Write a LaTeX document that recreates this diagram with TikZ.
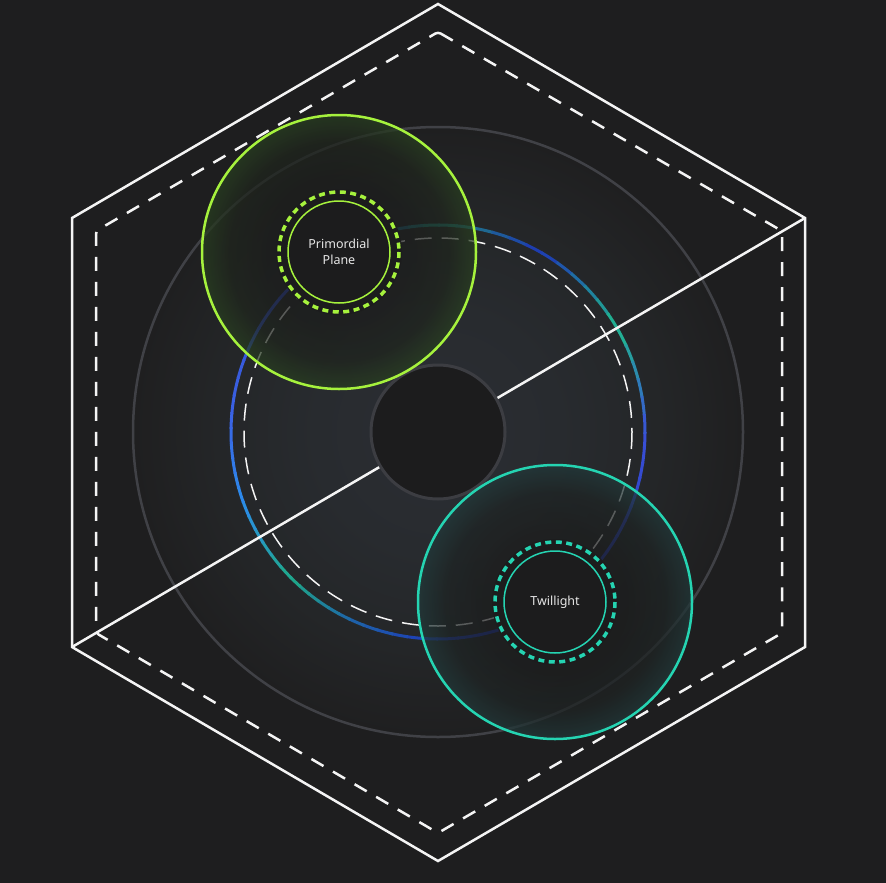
\documentclass[tikz,border=0pt]{standalone}
\usepackage{fontspec}
\setmainfont{Noto Sans}
\usetikzlibrary{calc}
\definecolor{bgdark}{HTML}{1E1E1F}
\definecolor{hexwhite}{HTML}{F4F4F4}
\definecolor{orbitgrey}{HTML}{404146}
\definecolor{coregrey}{HTML}{3C3D42}
\definecolor{corefill}{HTML}{1C1C1D}
\definecolor{limegreen}{HTML}{A6F23D}
\definecolor{aquateal}{HTML}{25D4B2}
\definecolor{labelgrey}{HTML}{E6E6E6}
\definecolor{orbitmid}{HTML}{2B2E33}
\definecolor{orbitsoft}{HTML}{282B2F}
\definecolor{orbitfade}{HTML}{242628}
\definecolor{orbitedge}{HTML}{1F1F20}
\definecolor{limecore}{HTML}{1C1D1C}
\definecolor{limemid}{HTML}{1F251D}
\definecolor{limeedge}{HTML}{283F20}
\definecolor{tealcore}{HTML}{1C1D1D}
\definecolor{tealmid}{HTML}{1E2424}
\definecolor{tealedge}{HTML}{21393A}
% ring stops
\definecolor{ringA}{HTML}{3A50D8}
\definecolor{ringB}{HTML}{2F44C8}
\definecolor{ringC}{HTML}{1E38B0}
\definecolor{ringD}{HTML}{1E38B8}
\definecolor{ringE}{HTML}{1E64A8}
\definecolor{ringF}{HTML}{1FAA88}
\definecolor{ringG}{HTML}{2C8CEA}
\definecolor{ringH}{HTML}{3B62E4}
\definecolor{ringI}{HTML}{3350D6}
\definecolor{ringJ}{HTML}{243A90}
\definecolor{ringK}{HTML}{1F8C78}
\definecolor{ringL}{HTML}{1E36B4}
\definecolor{ringM}{HTML}{20B88E}
% the middle 50bp of a shading is fitted to the path, so 25bp is the rim
\pgfdeclareradialshading{orbitglow}{\pgfpoint{0bp}{0bp}}{color(0bp)=(orbitmid); color(10bp)=(orbitsoft); color(18bp)=(orbitfade); color(25bp)=(orbitedge); color(50bp)=(orbitedge)}
\pgfdeclareradialshading{limeglow}{\pgfpoint{0bp}{0bp}}{color(0bp)=(limecore); color(13bp)=(limecore); color(20bp)=(limemid); color(25bp)=(limeedge); color(50bp)=(limeedge)}
\pgfdeclareradialshading{tealglow}{\pgfpoint{0bp}{0bp}}{color(0bp)=(tealcore); color(13bp)=(tealcore); color(20bp)=(tealmid); color(25bp)=(tealedge); color(50bp)=(tealedge)}

\begin{document}
\begin{tikzpicture}[
        x=1pt, y=-1pt,
        hexline/.style={draw=hexwhite, line width=2.5pt, line join=miter},
        hexdash/.style={draw=hexwhite, line width=2.5pt, dash pattern=on 14pt off 11pt, rounded corners=3pt},
        orbit/.style={draw=orbitgrey, line width=2.5pt},
        ringline/.style={line width=3pt, line cap=butt},
        trackdash/.style={draw=hexwhite, line width=1.5pt, dash pattern=on 17pt off 10pt},
        realm/.style={line width=2.5pt},
        seal/.style={line width=3.5pt, dash pattern=on 6pt off 4.5pt},
        realmtext/.style={text=labelgrey, font=\fontsize{12.5}{16}\selectfont, align=center, inner sep=0pt},
    ]
        \fill[bgdark] (0,0) rectangle (886,883);
        \useasboundingbox (0,0) rectangle (886,883);

        \coordinate (core) at (438,432);
        \coordinate (primal) at (339,252);
        \coordinate (dusk) at (555,602);

        \coordinate (hexN) at (438,4);
        \coordinate (hexNE) at (805,218);
        \coordinate (hexSE) at (805,647);
        \coordinate (hexS) at (438,861);
        \coordinate (hexSW) at (72,647);
        \coordinate (hexNW) at (72,218);

        \draw[hexline] (hexN) -- (hexNE) -- (hexSE) -- (hexS) -- (hexSW) -- (hexNW) -- cycle;
        \draw[hexdash] (438,32) -- (782,231) -- (782,633) -- (438,833) -- (96,633) -- (96,231) -- cycle;

        \shade[shading=orbitglow] (core) circle[radius=305];
        \draw[orbit] (core) circle[radius=305];

        \foreach \sa/\ea/\ca/\cb in {0/25/ringA/ringB, 25/55/ringB/ringC, 55/90/ringC/ringD,
                90/115/ringD/ringE, 115/135/ringE/ringF, 135/160/ringF/ringG, 160/185/ringG/ringH,
                185/215/ringH/ringI, 215/245/ringI/ringJ, 245/270/ringJ/ringK, 270/300/ringK/ringL,
                300/330/ringL/ringM, 330/360/ringM/ringA}{
            \foreach \k in {0,...,5}{
                \pgfmathsetmacro\from{\sa+(\ea-\sa)*\k/6}
                \pgfmathsetmacro\to{\sa+(\ea-\sa)*(\k+1)/6+0.5}
                \pgfmathtruncatemacro\mix{100-100*(\k+0.5)/6}
                \colorlet{segcol}{\ca!\mix!\cb}
                \draw[ringline, segcol] ($(core)+(\from:207)$) arc[start angle=\from, end angle=\to, radius=207];
            }
        }
        \draw[trackdash] (core) circle[radius=194];

        \draw[hexline] (hexSW) -- (hexNE);

        \draw[fill=corefill, draw=coregrey, line width=3pt] (core) circle[radius=67];

        \shade[shading=limeglow, fill opacity=0.72] (primal) circle[radius=137];
        \draw[realm, limegreen] (primal) circle[radius=137];
        \fill[corefill] (primal) circle[radius=63];
        \draw[seal, limegreen] (primal) circle[radius=60];
        \draw[limegreen, line width=1.5pt] (primal) circle[radius=51];
        \node[realmtext] (primordial) at (primal) {Primordial\\Plane};

        \shade[shading=tealglow, fill opacity=0.72] (dusk) circle[radius=137];
        \draw[realm, aquateal] (dusk) circle[radius=137];
        \fill[corefill] (dusk) circle[radius=63];
        \draw[seal, aquateal] (dusk) circle[radius=60];
        \draw[aquateal, line width=1.5pt] (dusk) circle[radius=51];
        \node[realmtext] (twillight) at (dusk) {Twillight};
    \end{tikzpicture}
\end{document}
